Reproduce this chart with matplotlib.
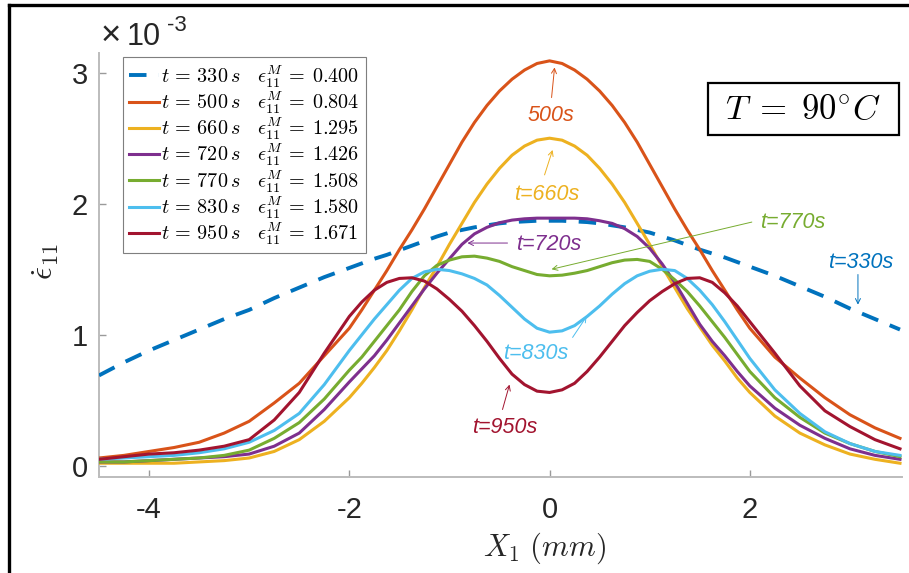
import matplotlib
matplotlib.use('Agg')
import matplotlib.pyplot as plt
from matplotlib.lines import Line2D
from matplotlib.patches import Rectangle

plt.rcParams['mathtext.fontset'] = 'cm'
plt.rcParams['font.family'] = ['Liberation Sans', 'DejaVu Sans']

# ---------------- data (strain rate in units of 1e-3) ----------------
x_mm = [-4.5, -4.25, -4.0, -3.75, -3.5, -3.25, -3.0, -2.75, -2.5, -2.25,
        -2.0, -1.875, -1.75, -1.625, -1.5, -1.375, -1.25, -1.125, -1.0, -0.875,
        -0.75, -0.625, -0.5, -0.375, -0.25, -0.125, 0.0, 0.125, 0.25, 0.375,
        0.5, 0.625, 0.75, 0.875, 1.0, 1.125, 1.25, 1.375, 1.5, 1.625,
        1.75, 1.875, 2.0,
        2.25, 2.5, 2.75, 3.0, 3.25, 3.5]

rate_330 = [0.69, 0.79, 0.88, 0.96, 1.04, 1.12, 1.19, 1.28, 1.36, 1.44,
            1.51, 1.545, 1.58, 1.61, 1.645, 1.68, 1.715, 1.75, 1.78, 1.80,
            1.82, 1.835, 1.85, 1.86, 1.865, 1.87, 1.87, 1.87, 1.865, 1.86,
            1.85, 1.835, 1.82, 1.80, 1.78, 1.75, 1.72, 1.685, 1.65, 1.62,
            1.59, 1.555, 1.52,
            1.45, 1.37, 1.29, 1.20, 1.12, 1.04]
rate_500 = [0.06, 0.08, 0.11, 0.14, 0.18, 0.25, 0.34, 0.48, 0.63, 0.84,
            1.05, 1.19, 1.34, 1.49, 1.65, 1.80, 1.96, 2.13, 2.30, 2.47,
            2.62, 2.75, 2.86, 2.95, 3.02, 3.07, 3.09, 3.07, 3.02, 2.95,
            2.86, 2.75, 2.62, 2.47, 2.30, 2.13, 1.96, 1.80, 1.65, 1.49,
            1.34, 1.19, 1.05,
            0.83, 0.67, 0.52, 0.39, 0.29, 0.21]
rate_660 = [0.02, 0.02, 0.02, 0.02, 0.03, 0.04, 0.06, 0.11, 0.20, 0.34,
            0.52, 0.63, 0.75, 0.88, 1.03, 1.19, 1.36, 1.52, 1.69, 1.85,
            2.01, 2.15, 2.27, 2.37, 2.44, 2.485, 2.50, 2.485, 2.44, 2.37,
            2.27, 2.15, 2.01, 1.85, 1.69, 1.52, 1.36, 1.20, 1.06, 0.92,
            0.80, 0.67, 0.56,
            0.38, 0.25, 0.16, 0.09, 0.05, 0.02]
rate_720 = [0.03, 0.03, 0.04, 0.05, 0.06, 0.07, 0.09, 0.15, 0.25, 0.43,
            0.64, 0.74, 0.84, 0.96, 1.09, 1.22, 1.35, 1.47, 1.58, 1.69,
            1.77, 1.82, 1.855, 1.875, 1.885, 1.89, 1.89, 1.89, 1.89, 1.885,
            1.87, 1.85, 1.81, 1.75, 1.66, 1.54, 1.40, 1.24, 1.08, 0.95,
            0.84, 0.72, 0.61,
            0.44, 0.31, 0.21, 0.13, 0.08, 0.05]
rate_770 = [0.03, 0.03, 0.04, 0.05, 0.06, 0.08, 0.12, 0.21, 0.33, 0.51,
            0.73, 0.83, 0.95, 1.07, 1.19, 1.33, 1.45, 1.53, 1.57, 1.595,
            1.60, 1.585, 1.56, 1.52, 1.49, 1.46, 1.45, 1.455, 1.47, 1.49,
            1.52, 1.55, 1.57, 1.575, 1.56, 1.50, 1.42, 1.33, 1.22, 1.10,
            0.98, 0.85, 0.72,
            0.52, 0.37, 0.25, 0.17, 0.11, 0.07]
rate_830 = [0.05, 0.06, 0.07, 0.08, 0.10, 0.13, 0.18, 0.27, 0.40, 0.62,
            0.88, 1.00, 1.12, 1.23, 1.34, 1.43, 1.48, 1.50, 1.49, 1.465,
            1.43, 1.38, 1.30, 1.21, 1.12, 1.05, 1.02, 1.03, 1.07, 1.14,
            1.22, 1.31, 1.39, 1.45, 1.485, 1.50, 1.49, 1.43, 1.34, 1.23,
            1.10, 0.96, 0.82,
            0.58, 0.40, 0.26, 0.17, 0.11, 0.08]
rate_950 = [0.05, 0.07, 0.09, 0.10, 0.12, 0.15, 0.20, 0.35, 0.56, 0.86,
            1.14, 1.25, 1.34, 1.40, 1.43, 1.435, 1.41, 1.35, 1.27, 1.18,
            1.07, 0.95, 0.82, 0.70, 0.62, 0.57, 0.56, 0.58, 0.63, 0.72,
            0.83, 0.95, 1.07, 1.17, 1.26, 1.33, 1.39, 1.43, 1.435, 1.40,
            1.32, 1.22, 1.10,
            0.86, 0.61, 0.42, 0.30, 0.20, 0.13]

series = [rate_330, rate_500, rate_660, rate_720, rate_770, rate_830, rate_950]
times = ['330', '500', '660', '720', '770', '830', '950']
eps_M = ['0.400', '0.804', '1.295', '1.426', '1.508', '1.580', '1.671']
colors = ['#0072BD', '#D95319', '#EDB120', '#7E2F8E', '#77AC30', '#4DBEEE', '#A2142F']

x_ticks = [-4, -2, 0, 2]
y_ticks = [0, 1, 2, 3]

# ---------------- figure ----------------
W, H = 909, 573
fig = plt.figure(figsize=(W / 100, H / 100), dpi=100)

def fx(px):
    return px / W

def fy(py):
    return 1 - py / H

ax = fig.add_axes([fx(99), fy(477), fx(902) - fx(99), fy(53) - fy(477)])

for i, (vals, t, e, c) in enumerate(zip(series, times, eps_M, colors)):
    lab = r'$t\,=\,%s\,s\ \ \ \epsilon_{11}^{M}\,=\;%s$' % (t, e)
    if i == 0:
        ax.plot(x_mm, vals, color=c, lw=2.8, ls=(0, (4.5, 3.2)), label=lab, zorder=3)
    else:
        ax.plot(x_mm, vals, color=c, lw=2.2, label=lab, zorder=3)

ax.set_xlim(-4.5, 3.52)
ax.set_ylim(-0.085, 3.15)
ax.set_xticks(x_ticks)
ax.set_xticklabels([str(v) for v in x_ticks])
ax.set_yticks(y_ticks)
ax.set_yticklabels([str(v) for v in y_ticks])

for s in ['top', 'right']:
    ax.spines[s].set_visible(False)
for s in ['left', 'bottom']:
    ax.spines[s].set_color('#bcbcbc')
    ax.spines[s].set_linewidth(1.4)
ax.tick_params(axis='both', direction='in', length=5, width=1.0, color='#9a9a9a',
               labelsize=21, labelcolor='#262626')
ax.tick_params(axis='x', pad=14)
ax.tick_params(axis='y', pad=8)

# axis labels
fig.text(fx(46), fy(262), r'$\dot{\epsilon}_{11}$', rotation=90, ha='center', va='center',
         fontsize=23, color='#262626')
fig.text(fx(545), fy(548), r'$X_1\ (mm)$', ha='center', va='center', fontsize=22,
         color='#262626')

# exponent
fig.text(fx(101), fy(45), '\u00d7', ha='left', va='baseline', fontsize=25, color='#262626')
fig.text(fx(127), fy(45), '10', ha='left', va='baseline', fontsize=22, color='#262626')
fig.text(fx(167), fy(31), '-3', ha='left', va='baseline', fontsize=16, color='#262626')

# legend
leg = ax.legend(loc='upper left', bbox_to_anchor=(fx(123), fy(57)), bbox_transform=fig.transFigure,
                borderaxespad=0, fontsize=14.5, handlelength=1.5, handletextpad=0.1,
                labelspacing=-0.02, borderpad=0.3, fancybox=False, framealpha=1,
                edgecolor='#7f7f7f')
leg.get_frame().set_linewidth(0.8)

# temperature box
fig.add_artist(Rectangle((fx(708), fy(135)), fx(899) - fx(708), fy(83) - fy(135),
                         transform=fig.transFigure, fc='white', ec='black', lw=1.6, zorder=4))
fig.text(fx(803), fy(110), r'$T\;=\;90^{\circ}C$', ha='center', va='center', fontsize=25,
         zorder=5)

# annotations
ann = [
    ('500s', colors[1], (0.01, 2.67), (0.02, 2.81), (0.05, 3.04)),
    ('t=660s', colors[2], (-0.03, 2.07), (-0.05, 2.22), (0.03, 2.41)),
    ('t=720s', colors[3], (-0.01, 1.69), (-0.42, 1.70), (-0.82, 1.70)),
    ('t=770s', colors[4], (2.43, 1.86), (2.02, 1.86), (0.02, 1.50)),
    ('t=330s', colors[0], (3.11, 1.55), (3.08, 1.46), (3.08, 1.23)),
    ('t=830s', colors[5], (-0.14, 0.86), (0.23, 0.98), (0.37, 1.14)),
    ('t=950s', colors[6], (-0.45, 0.29), (-0.47, 0.43), (-0.40, 0.62)),
]
for txt, c, tpos, tail, tip in ann:
    ax.text(tpos[0], tpos[1], txt, color=c, fontsize=15.5, style='italic',
            ha='center', va='center', zorder=5)
    ax.annotate('', xy=tip, xytext=tail,
                arrowprops=dict(arrowstyle='->', color=c, lw=0.7, mutation_scale=9,
                                shrinkA=0, shrinkB=0), zorder=5)

# outer frame (left and top edges)
fig.add_artist(Line2D([fx(9), fx(9)], [0, fy(5)], color='black', lw=2.4,
                      transform=fig.transFigure))
fig.add_artist(Line2D([fx(9), 1], [fy(5), fy(5)], color='black', lw=2.4,
                      transform=fig.transFigure))

fig.savefig('out.png', dpi=100)
